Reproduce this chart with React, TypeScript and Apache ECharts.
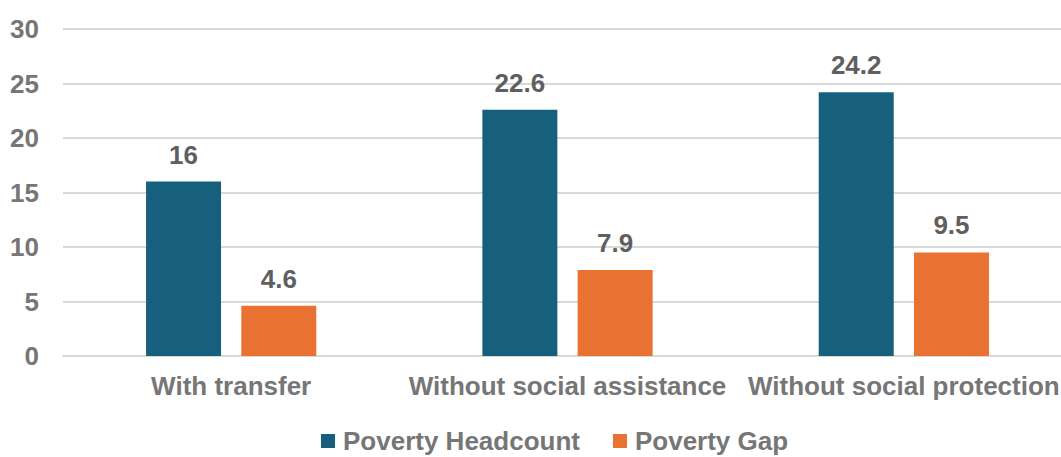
import React, { useEffect, useRef } from "react";
import * as echarts from "echarts";

const categories = ["With transfer", "Without social assistance", "Without social protection"];
const headcount = [16, 22.6, 24.2];
const gap = [4.6, 7.9, 9.5];
const seriesNames = ["Poverty Headcount", "Poverty Gap"];

const FONT = "'Liberation Sans', Arial, sans-serif";
const GRAY = "#767676";
const FS = 26;

export default function App() {
  const ref = useRef<HTMLDivElement>(null);
  useEffect(() => {
    if (!ref.current) return;
    const chart = echarts.init(ref.current, null, { renderer: "svg" });
    chart.setOption({
      animation: false,
      backgroundColor: "#ffffff",
      grid: { left: 63, right: 0, top: 29, bottom: 101, containLabel: false },
      legend: {
        top: 428,
        left: 321,
        padding: 0,
        itemWidth: 14,
        itemHeight: 14,
        itemGap: 33,
        icon: "rect",
        textStyle: { color: GRAY, fontSize: FS, fontWeight: "bold", fontFamily: FONT, padding: [0, 0, 0, 3] },
        data: seriesNames,
      },
      xAxis: {
        type: "category",
        data: categories,
        axisLine: { show: true, lineStyle: { color: "#d9d9d9", width: 2 } },
        axisTick: { show: false },
        axisLabel: { color: GRAY, fontSize: FS, fontWeight: "bold", fontFamily: FONT, margin: 17, interval: 0 },
      },
      yAxis: {
        type: "value",
        min: 0,
        max: 30,
        interval: 5,
        axisLine: { show: false },
        axisTick: { show: false },
        splitLine: { lineStyle: { color: "#d9d9d9", width: 2 } },
        axisLabel: { color: GRAY, fontSize: FS, fontWeight: "bold", fontFamily: FONT, margin: 24 },
      },
      series: [
        {
          name: seriesNames[0],
          type: "bar",
          data: headcount,
          barWidth: 75,
          barGap: "27%",
          itemStyle: { color: "#16607E" },
          label: { show: true, position: "top", distance: 14, color: "#5f5f5f", fontSize: FS, fontWeight: "bold", fontFamily: FONT },
        },
        {
          name: seriesNames[1],
          type: "bar",
          data: gap,
          barWidth: 75,
          itemStyle: { color: "#E97132" },
          label: { show: true, position: "top", distance: 14, color: "#5f5f5f", fontSize: FS, fontWeight: "bold", fontFamily: FONT },
        },
      ],
    });
    return () => chart.dispose();
  }, []);
  return (
    <div style={{ position: "fixed", left: 0, top: 0, width: 1061, height: 457, overflow: "hidden", background: "#fff" }}>
      <div ref={ref} style={{ width: 1072, height: 457 }} />
    </div>
  );
}
